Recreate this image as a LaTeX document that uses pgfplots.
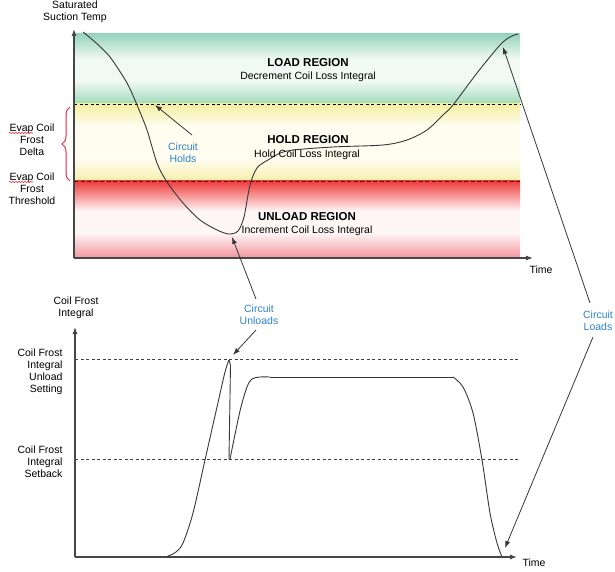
\documentclass[border=0pt]{standalone}
\usepackage{fontspec}
\setmainfont{Liberation Sans}
\usepackage{pgfplots}
\pgfplotsset{compat=1.18}
\usetikzlibrary{arrows.meta,decorations.pathreplacing,decorations.pathmorphing}

\definecolor{curve}{RGB}{55,55,55}
\definecolor{axisgray}{RGB}{70,70,70}
\definecolor{lblue}{RGB}{45,130,200}
\definecolor{bracered}{RGB}{225,40,60}
\definecolor{gtop}{RGB}{150,212,190}
\definecolor{gmid}{RGB}{240,249,244}
\definecolor{gbot}{RGB}{160,218,185}
\definecolor{ytop}{RGB}{245,238,160}
\definecolor{ymid}{RGB}{254,253,240}
\definecolor{ybot}{RGB}{246,238,170}
\definecolor{rtop}{RGB}{238,60,60}
\definecolor{rmid}{RGB}{255,246,246}
\definecolor{rbot}{RGB}{242,150,158}

\begin{document}
\begin{tikzpicture}[x=1pt,y=1pt,font=\fontsize{10.5}{12}\selectfont]
\path[use as bounding box] (0,0) rectangle (615,571);

% saturated suction temperature vs time
\begin{axis}[
    at={(74pt,313pt)}, anchor=south west,
    scale only axis, width=459pt, height=229pt,
    xmin=74, xmax=533, ymin=313, ymax=542,
    axis lines=left,
    axis line style={draw=axisgray, line width=1.1pt, -{Latex[length=7pt,width=5pt]}},
    xtick=\empty, ytick=\empty,
    clip=false, axis on top
  ]
  % load band
  \fill[top color=gtop, bottom color=gmid] (axis cs:74.6,537) rectangle (axis cs:520,512);
  \fill[gmid] (axis cs:74.6,512) rectangle (axis cs:520,490);
  \fill[top color=gmid, bottom color=gbot] (axis cs:74.6,490) rectangle (axis cs:520,467);
  % hold band
  \fill[top color=ytop, bottom color=ymid] (axis cs:74.6,467) rectangle (axis cs:520,445);
  \fill[ymid] (axis cs:74.6,445) rectangle (axis cs:520,412);
  \fill[top color=ymid, bottom color=ybot] (axis cs:74.6,412) rectangle (axis cs:520,390);
  % unload band
  \fill[top color=rtop, bottom color=rmid] (axis cs:74.6,390) rectangle (axis cs:520,360);
  \fill[rmid] (axis cs:74.6,360) rectangle (axis cs:520,338);
  \fill[top color=rmid, bottom color=rbot] (axis cs:74.6,338) rectangle (axis cs:520,313.6);
  \addplot[black, line width=0.8pt, dash pattern=on 3pt off 2.5pt] coordinates {(74,467) (520,467)};
  \addplot[black!70!red, line width=0.9pt, dash pattern=on 4pt off 2.5pt] coordinates {(74,390) (520,390)};
  \addplot[curve, line width=0.9pt, smooth] coordinates {
    (83,539) (95,529) (110,514) (127,488) (137,466) (147,441) (157,408)
    (167,389) (183,368) (200,351) (217,341) (229,337) (238,340) (244,354)
    (250,386) (257,403) (268,411) (287,420) (333,424) (383,426) (407,431)
    (427,441) (443,456) (453,466) (477,498) (500,526) (510,534) (518,537)
  };
\end{axis}

% coil frost integral vs time
\begin{axis}[
    at={(75pt,14pt)}, anchor=south west,
    scale only axis, width=442pt, height=230pt,
    xmin=75, xmax=517, ymin=14, ymax=244,
    axis lines=left,
    axis line style={draw=axisgray, line width=1.1pt, -{Latex[length=7pt,width=5pt]}},
    xtick=\empty, ytick=\empty,
    clip=false, axis on top
  ]
  \addplot[black!75, line width=0.7pt, dash pattern=on 3pt off 2.5pt] coordinates {(75,212) (520,212)};
  \addplot[black!75, line width=0.7pt, dash pattern=on 3pt off 2.5pt] coordinates {(75,112) (520,112)};
  \addplot[curve, line width=0.9pt, smooth] coordinates {
    (75,14) (158,14) (168,15) (176,19) (183,28) (193,58) (205,111)
    (217,164) (225,199) (229,211)
  };
  \addplot[curve, line width=0.9pt] coordinates {(229,211) (230.5,206) (229,112) (230,112)};
  \addplot[curve, line width=0.9pt, smooth] coordinates {
    (230,112) (240,160) (247,184) (252,192) (260,194) (270,194)
  };
  \addplot[curve, line width=0.9pt] coordinates {(270,194) (453,194)};
  \addplot[curve, line width=0.9pt, smooth] coordinates {
    (453,194) (463,184) (473,158) (482,111) (490,58) (497,28) (502,14)
  };
\end{axis}

% axis titles
\node[align=center] at (75,559) {Saturated\\Suction Temp};
\node[align=center] at (541,301) {Time};
\node[align=center] at (76,263) {Coil Frost\\Integral};
\node[align=center] at (534,8) {Time};

% thresholds, top chart
\node[align=center] at (32,431) {Evap Coil\\Frost\\Delta};
\node[align=center] at (32,382) {Evap Coil\\Frost\\Threshold};
\draw[bracered, line width=1pt, decorate, decoration={brace, amplitude=8pt}] (70,390) -- (70,464);
\draw[bracered, line width=0.6pt, decorate, decoration={snake, amplitude=0.6pt, segment length=3pt}] (9,438) -- (33,438);
\draw[bracered, line width=0.6pt, decorate, decoration={snake, amplitude=0.6pt, segment length=3pt}] (9,389) -- (33,389);

% thresholds, bottom chart
\node[align=right, anchor=east] at (66,199) {Coil Frost\\Integral\\Unload\\Setting};
\node[align=right, anchor=east] at (66,109) {Coil Frost\\Integral\\Setback};

% regions
\node[font=\fontsize{11.5}{13}\selectfont\bfseries] at (308,508) {LOAD REGION};
\node at (308,494) {Decrement Coil Loss Integral};
\node[font=\fontsize{11.5}{13}\selectfont\bfseries] at (308,431) {HOLD REGION};
\node at (307,416) {Hold Coil Loss Integral};
\node[font=\fontsize{11.5}{13}\selectfont\bfseries] at (307,354) {UNLOAD REGION};
\node at (307,340) {Increment Coil Loss Integral};

% callouts
\node[lblue, align=center] at (183,418) {Circuit\\Holds};
\node[lblue, align=center] at (259,256) {Circuit\\Unloads};
\node[lblue, align=center] at (598,250) {Circuit\\Loads};
\begin{scope}[curve, line width=0.8pt, -{Latex[length=7pt,width=5pt]}]
  \draw (192,436) -- (155,466);
  \draw (256,272) -- (232,334);
  \draw (256,241) -- (233,216);
  \draw (590,268) -- (503,524);
  \draw (593,234) -- (505,23);
\end{scope}
\end{tikzpicture}
\end{document}
